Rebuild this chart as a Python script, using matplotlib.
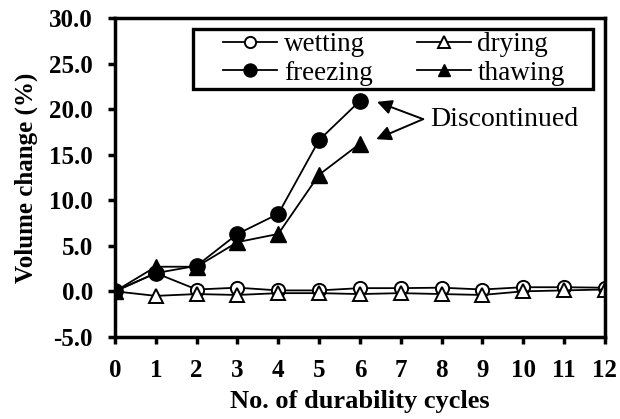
import numpy as np
import matplotlib
matplotlib.use('Agg')
import matplotlib.pyplot as plt
from matplotlib.patches import Rectangle
from matplotlib.ticker import FormatStrFormatter

# --- Data ---
cycles = [0, 1, 2, 3, 4, 5, 6, 7, 8, 9, 10, 11, 12]
wetting = [0.0, 2.0, 0.2, 0.4, 0.1, 0.1, 0.35, 0.35, 0.4, 0.2, 0.45, 0.45, 0.4]
drying = [0.0, -0.5, -0.3, -0.4, -0.2, -0.2, -0.3, -0.2, -0.3, -0.4, 0.0, 0.1, 0.2]
freeze_cycles = [0, 1, 2, 3, 4, 5, 6]
freezing = [0.0, 2.0, 2.8, 6.3, 8.5, 16.6, 20.9]
thawing = [0.0, 2.7, 2.7, 5.4, 6.3, 12.8, 16.2]

plt.rcParams['font.family'] = 'Liberation Serif'

fig = plt.figure(figsize=(6.2, 4.19), dpi=100)
ax = fig.add_axes([0.1855, 0.196, 0.790, 0.761])

lw = 1.3
h_wet, = ax.plot(cycles, wetting, color='black', lw=lw, marker='o', ms=9.5,
                 mfc='white', mec='black', mew=1.4, label='wetting')
h_dry, = ax.plot(cycles, drying, color='black', lw=lw, marker='^', ms=9.5,
                 mfc='white', mec='black', mew=1.4, label='drying')
h_frz, = ax.plot(freeze_cycles, freezing, color='black', lw=lw, marker='o', ms=11,
                 mfc='black', mec='black', label='freezing')
h_thw, = ax.plot(freeze_cycles, thawing, color='black', lw=lw, marker='^', ms=11,
                 mfc='black', mec='black', label='thawing')

ax.set_xlim(0, 12)
ax.set_ylim(-5, 30)
ax.set_xticks(cycles)
ax.set_yticks(np.arange(-5, 31, 5))
ax.yaxis.set_major_formatter(FormatStrFormatter('%.1f'))

for s in ax.spines.values():
    s.set_linewidth(2.5)
ax.tick_params(direction='out', length=5, width=2.5, labelsize=18, pad=11)
for lab in ax.get_xticklabels() + ax.get_yticklabels():
    lab.set_fontweight('bold')

ax.set_xlabel('No. of durability cycles', fontsize=19, fontweight='bold', labelpad=6)
ax.set_ylabel('Volume change (%)', fontsize=18, fontweight='bold', labelpad=8)

# legend without its own frame; box drawn separately
leg = ax.legend(handles=[h_wet, h_frz, h_dry, h_thw], ncol=2, fontsize=19.5,
                loc='center', bbox_to_anchor=(0.2204, 0.777, 0.698, 0.1885),
                mode='expand', frameon=False, markerscale=0.85,
                handlelength=2.0, handletextpad=0.25, borderpad=0.0,
                labelspacing=0.12, borderaxespad=0.0)
ax.add_patch(Rectangle((0.159, 0.777), 0.817, 0.1885, transform=ax.transAxes,
                       fill=False, edgecolor='black', lw=2.4, zorder=5))

# --- Discontinued annotation ---
arrow_kw = dict(arrowstyle='-|>', color='black', lw=1.4, mutation_scale=22,
                shrinkA=0, shrinkB=0)
ax.annotate('', xy=(6.42, 20.8), xytext=(7.55, 18.9), arrowprops=arrow_kw)
ax.annotate('', xy=(6.4, 16.7), xytext=(7.55, 18.9), arrowprops=arrow_kw)
ax.text(7.72, 18.9, 'Discontinued', fontsize=20, va='center', ha='left')

fig.savefig('out.png', dpi=100)
